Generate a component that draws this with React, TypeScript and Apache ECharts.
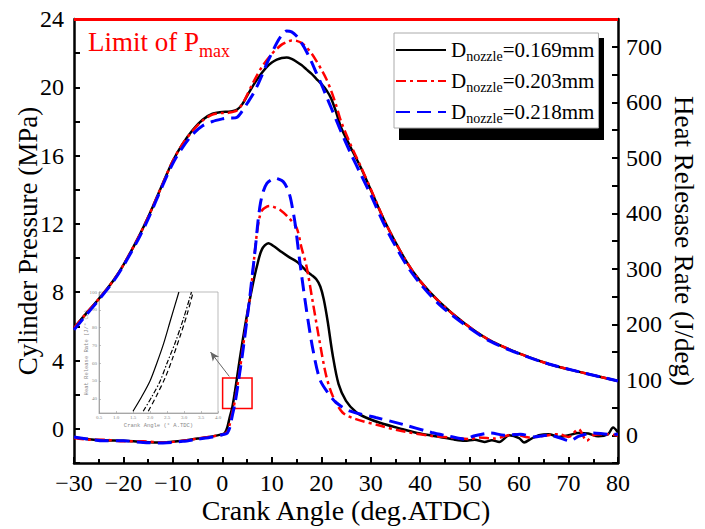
import React, { useEffect, useRef } from 'react';
import * as echarts from 'echarts';

const FONT = "'Times New Roman', 'Liberation Serif', serif";
const MONO = "'Liberation Mono', 'DejaVu Sans Mono', monospace";

// ---- Cylinder pressure (MPa), left axis ----
const pAngles = [-30, -28, -25, -22, -20, -17, -15, -12, -10, -8, -6, -4, -2, 0, 1, 2, 3, 4, 5, 6, 7, 8, 9, 10, 11, 12, 13, 14, 15, 16, 17, 18, 19, 20, 21, 22, 23, 24, 26, 28, 30, 33, 37, 40, 44, 49, 54, 60, 66, 72, 80];
const pBlack = [5.9, 6.6, 7.6, 8.7, 9.6, 11.2, 12.4, 14.4, 15.7, 16.7, 17.5, 18.1, 18.45, 18.55, 18.57, 18.6, 18.7, 19.0, 19.5, 20.0, 20.45, 20.85, 21.2, 21.45, 21.62, 21.72, 21.74, 21.66, 21.5, 21.3, 21.05, 20.8, 20.5, 20.2, 19.85, 19.35, 18.55, 17.65, 16.45, 15.3, 14.0, 12.05, 9.9, 8.65, 7.4, 6.17, 5.2, 4.42, 3.8, 3.35, 2.8];
const pRed = [5.9, 6.6, 7.6, 8.7, 9.6, 11.2, 12.4, 14.4, 15.7, 16.7, 17.45, 18.05, 18.4, 18.5, 18.5, 18.55, 18.65, 19.0, 19.55, 20.15, 20.7, 21.2, 21.6, 21.95, 22.25, 22.5, 22.65, 22.74, 22.72, 22.6, 22.35, 22.0, 21.55, 21.05, 20.5, 19.8, 18.95, 18.0, 16.6, 15.35, 14.05, 12.05, 9.9, 8.65, 7.4, 6.17, 5.2, 4.42, 3.8, 3.35, 2.8];
const pBlue = [5.8, 6.5, 7.55, 8.65, 9.55, 11.1, 12.3, 14.3, 15.55, 16.5, 17.25, 17.75, 18.0, 18.15, 18.2, 18.2, 18.25, 18.6, 19.05, 19.5, 20.05, 20.7, 21.4, 22.0, 22.6, 23.05, 23.3, 23.25, 23.0, 22.6, 22.1, 21.5, 20.85, 20.2, 19.5, 18.8, 18.1, 17.4, 16.1, 14.9, 13.7, 11.8, 9.7, 8.5, 7.25, 6.1, 5.15, 4.4, 3.8, 3.35, 2.8];

// ---- Heat release rate (J/deg), right axis ----
const hAnglesBlack = [-30, -27, -24, -20, -16, -12, -8, -5, -2, 0, 0.5, 1, 1.5, 2, 2.5, 3, 4, 5, 6, 7, 8, 9.3, 10.5, 12, 13.5, 15, 16, 17, 18, 19, 19.8, 20.5, 21.3, 22.3, 23.5, 25, 27, 29, 32, 36, 40, 44, 47, 49, 51, 53, 54.5, 56, 58, 60, 61, 62.5, 64, 66, 68, 70, 72, 74, 76, 78, 79, 80];
const hBlack = [-4, -7, -9, -10, -12, -13, -10, -6, -2, 2, 4, 14, 33, 50, 76, 106, 165, 218, 265, 305, 335, 346, 340, 330, 321, 313, 305, 296, 289, 281, 268, 245, 205, 145, 92, 62, 42, 32, 22, 12, 3, -3, -8, -10, -8, -12, -9, -12, 0, -5, -13, -6, 0, 2, -3, 0, 4, 3, -2, 2, 14, 5];
const hAnglesRed = [-30, -27, -24, -20, -16, -12, -8, -5, -2, 0, 0.5, 1, 1.5, 2, 2.5, 3, 3.5, 4, 4.5, 5, 5.5, 6, 6.5, 7, 7.5, 8, 9, 9.7, 10.5, 11.7, 13.3, 15, 16, 17, 18.3, 19.7, 21, 22.3, 24.3, 27, 32, 36, 42, 46, 50, 52, 55, 57, 59, 62, 65, 68, 70, 72, 73.7, 75, 77.7, 80];
const hRed = [-5, -8, -8, -11, -11, -13, -10, -6, -2, 1, 3, 6, 20, 40, 60, 87, 116, 148, 180, 212, 243, 280, 325, 365, 392, 405, 412, 413, 411, 406, 393, 374, 338, 305, 239, 167, 107, 71, 41, 29, 17, 8, -1, -4, -7, -4, -6, -2, 2, -4, -1, 2, -3, 11, -10, 0, 2, -1];
const hAnglesBlue = [-30, -27, -24, -20, -16, -12, -8, -5, -2, 0, 0.5, 1, 1.5, 2, 2.5, 3, 3.5, 4, 4.5, 5, 5.5, 6, 6.7, 7.2, 7.7, 8.3, 9, 10, 10.7, 11.5, 12.3, 13, 13.7, 14.2, 14.7, 15.7, 17, 18.3, 19.7, 21.3, 23, 25.7, 31, 36.3, 42.3, 46, 49, 51, 54.3, 57, 60.3, 63, 66, 68, 70.3, 72, 75, 78, 80];
const hBlue = [-3, -7, -10, -10, -13, -14, -11, -7, -3, 1, 2, 4, 14, 35, 55, 82, 112, 142, 175, 210, 245, 285, 340, 385, 418, 440, 454, 461, 463, 461, 457, 447, 430, 408, 382, 310, 226, 155, 101, 77, 59, 44, 32, 20, 5, -2, -7, -1, 4, 0, 2, -3, 0, -4, -10, -2, 4, 2, 2];

// ---- Inset (zoom of the start of combustion) ----
const insetAnglesBlack = [1.5, 1.75, 2.0, 2.2, 2.4, 2.6, 2.85];
const insetBlack = [33, 41, 50, 60, 71, 84, 100];
const insetAnglesRed = [1.8, 2.05, 2.3, 2.5, 2.75, 3.0, 3.22];
const insetRed = [33, 41, 50, 60, 72, 86, 100];
const insetAnglesBlue = [1.95, 2.2, 2.45, 2.65, 2.9, 3.1, 3.27];
const insetBlue = [33, 42, 52, 62, 76, 88, 100];
const insetYTicks = [40, 50, 60, 70, 80, 90, 100];

const legendNames = ['0.169mm', '0.203mm', '0.218mm'];
const pressureLimit = 24;
const zoomBox = { x0: 0.05, x1: 6.0, y0: 48, y1: 103 };
const arrowFrom = [1.4, 106];
const arrowTo = [-2.4, 150];

const pairs = (xs: number[], ys: number[]) => xs.map((x, i) => [x, ys[i]]);
const minus = (v: number) => String(v).replace('-', '\u2212');

const RED_DASH = [10, 4, 3, 4];
const BLUE_DASH = [14, 7];

function buildOption(): any {
  const axisLineStyle = { color: '#000', width: 2.5 };
  const tickStyle = { color: '#000', width: 2 };
  const mainLine = (name: string, data: number[][], yAxisIndex: number, color: string, type: any, width: number, extra: any = {}) => ({
    name,
    type: 'line',
    xAxisIndex: 0,
    yAxisIndex,
    data,
    symbol: 'none',
    smooth: 0.3,
    lineStyle: { color, width, type },
    itemStyle: { color },
    emphasis: { disabled: true },
    ...extra,
  });
  const insetLine = (data: number[][], type: any) => ({
    type: 'line',
    xAxisIndex: 1,
    yAxisIndex: 2,
    data,
    symbol: 'none',
    smooth: 0.3,
    lineStyle: { color: '#000', width: 1.2, type },
    itemStyle: { color: '#000' },
    emphasis: { disabled: true },
  });

  return {
    animation: false,
    backgroundColor: '#fff',
    grid: [
      { left: 74, right: 78, top: 19, bottom: 66 },
      { left: 99, top: 292, width: 119, height: 121, show: true, borderColor: '#aaa', borderWidth: 0.8 },
    ],
    legend: {
      data: legendNames,
      orient: 'vertical',
      left: 394,
      top: 33,
      z: 10,
      padding: [4, 4, 3, 1],
      itemGap: 5,
      itemWidth: 50,
      itemHeight: 14,
      selectedMode: false,
      backgroundColor: '#fff',
      borderColor: '#aaa',
      borderWidth: 1,
      itemStyle: { opacity: 0, borderWidth: 0 },
      formatter: (n: string) => `{d|D}{s|nozzle}{d|=${n}}`,
      textStyle: {
        fontFamily: FONT,
        color: '#000',
        rich: {
          d: { fontFamily: FONT, fontSize: 21, lineHeight: 26, color: '#000' },
          s: { fontFamily: FONT, fontSize: 14, lineHeight: 16, padding: [12, 0, 0, 0], color: '#000' },
        },
      },
    },
    xAxis: [
      {
        gridIndex: 0,
        type: 'value',
        min: -30,
        max: 80,
        interval: 10,
        axisLine: { onZero: false, lineStyle: axisLineStyle },
        axisTick: { inside: true, length: 6, lineStyle: tickStyle },
        minorTick: { show: true, splitNumber: 2, length: 4, lineStyle: tickStyle },
        splitLine: { show: false },
        axisLabel: { fontFamily: FONT, fontSize: 24, color: '#000', margin: 8, formatter: minus },
        name: 'Crank Angle (deg.ATDC)',
        nameLocation: 'middle',
        nameGap: 33,
        nameMoveOverlap: false,
        nameTextStyle: { fontFamily: FONT, fontSize: 28, color: '#000' },
      },
      {
        gridIndex: 1,
        type: 'value',
        min: 0.5,
        max: 4,
        interval: 0.5,
        axisLine: { onZero: false, lineStyle: { color: '#999', width: 0.8 } },
        axisTick: { inside: true, length: 2, lineStyle: { color: '#999', width: 0.6 } },
        splitLine: { show: false },
        axisLabel: { fontFamily: FONT, fontSize: 5, color: '#888', margin: 2, formatter: (v: number) => v.toFixed(1) },
        name: 'Crank Angle (\u00b0 A.TDC)',
        nameLocation: 'middle',
        nameGap: 9,
        nameMoveOverlap: false,
        nameTextStyle: { fontFamily: MONO, fontSize: 5.5, color: '#888' },
      },
    ],
    yAxis: [
      {
        gridIndex: 0,
        type: 'value',
        position: 'left',
        min: -2,
        max: 24,
        interval: 2,
        axisLine: { show: true, onZero: false, lineStyle: axisLineStyle },
        axisTick: { show: true, inside: true, length: 6, lineStyle: tickStyle },
        splitLine: { show: false },
        axisLabel: {
          fontFamily: FONT, fontSize: 24, color: '#000', margin: 10,
          formatter: (v: number) => (v % 4 === 0 ? minus(v) : ''),
        },
        name: 'Cylinder Pressure (MPa)',
        nameLocation: 'middle',
        nameRotate: 90,
        nameGap: 33,
        nameMoveOverlap: false,
        nameTextStyle: { fontFamily: FONT, fontSize: 27, color: '#000' },
      },
      {
        gridIndex: 0,
        type: 'value',
        position: 'right',
        min: -50,
        max: 750,
        interval: 50,
        axisLine: { show: true, onZero: false, lineStyle: axisLineStyle },
        axisTick: { show: true, inside: true, length: 6, lineStyle: tickStyle },
        splitLine: { show: false },
        axisLabel: {
          fontFamily: FONT, fontSize: 24, color: '#000', margin: 8,
          formatter: (v: number) => (v % 100 === 0 && v >= 0 && v <= 700 ? String(v) : ''),
        },
        name: 'Heat Relesase Rate (J/deg)',
        nameLocation: 'middle',
        nameRotate: -90,
        nameGap: 52,
        nameMoveOverlap: false,
        nameTextStyle: { fontFamily: FONT, fontSize: 27, color: '#000' },
      },
      {
        gridIndex: 1,
        type: 'value',
        min: 32,
        max: 100,
        axisLine: { show: true, onZero: false, lineStyle: { color: '#999', width: 0.8 } },
        axisTick: { show: true, inside: true, length: 2, customValues: insetYTicks, lineStyle: { color: '#999', width: 0.6 } },
        splitLine: { show: false },
        axisLabel: { fontFamily: FONT, fontSize: 5, color: '#888', margin: 2, customValues: insetYTicks },
        name: 'Heat Release Rate (J/\u00b0 CA)',
        nameLocation: 'middle',
        nameRotate: 90,
        nameGap: 10,
        nameMoveOverlap: false,
        nameTextStyle: { fontFamily: MONO, fontSize: 5.5, color: '#888' },
      },
    ],
    graphic: [
      {
        type: 'rect',
        silent: true,
        z: 1,
        shape: { x: 399, y: 38, width: 205, height: 102 },
        style: { fill: '#000' },
      },
      {
        type: 'text',
        left: 88,
        top: 24,
        silent: true,
        style: {
          text: '{a|Limit of P}{b|max}',
          rich: {
            a: { fontFamily: FONT, fontSize: 27, lineHeight: 32, fill: '#ff0000', color: '#ff0000' },
            b: { fontFamily: FONT, fontSize: 18, lineHeight: 20, padding: [18, 0, 0, 0], fill: '#ff0000', color: '#ff0000' },
          },
        },
      },
    ],
    series: [
      mainLine(legendNames[0], pairs(pAngles, pBlack), 0, '#000', 'solid', 2.5, {
        markLine: {
          silent: true,
          symbol: ['none', 'none'],
          label: { show: false },
          lineStyle: { color: '#ff0000', width: 3, type: 'solid' },
          data: [{ yAxis: pressureLimit }],
        },
      }),
      mainLine(legendNames[1], pairs(pAngles, pRed), 0, '#ff0000', RED_DASH, 2.5),
      mainLine(legendNames[2], pairs(pAngles, pBlue), 0, '#0000ff', BLUE_DASH, 3),
      mainLine(legendNames[0], pairs(hAnglesBlack, hBlack), 1, '#000', 'solid', 2.5, {
        markArea: {
          silent: true,
          itemStyle: { color: 'rgba(0,0,0,0)', borderColor: '#ff0000', borderWidth: 1.5 },
          label: { show: false },
          data: [[{ coord: [zoomBox.x0, zoomBox.y0] }, { coord: [zoomBox.x1, zoomBox.y1] }]],
        },
        markLine: {
          silent: true,
          symbol: ['none', 'arrow'],
          symbolSize: [6, 9],
          label: { show: false },
          lineStyle: { color: '#666', width: 1, type: 'solid' },
          data: [[{ coord: arrowFrom }, { coord: arrowTo }]],
        },
      }),
      mainLine(legendNames[1], pairs(hAnglesRed, hRed), 1, '#ff0000', RED_DASH, 2.5),
      mainLine(legendNames[2], pairs(hAnglesBlue, hBlue), 1, '#0000ff', BLUE_DASH, 3),
      insetLine(pairs(insetAnglesBlack, insetBlack), 'solid'),
      insetLine(pairs(insetAnglesRed, insetRed), [5, 2, 1.5, 2]),
      insetLine(pairs(insetAnglesBlue, insetBlue), [5, 3]),
    ],
  };
}

export default function App() {
  const ref = useRef<HTMLDivElement>(null);
  useEffect(() => {
    if (!ref.current) return;
    const chart = echarts.init(ref.current, null, { renderer: 'svg' });
    chart.setOption(buildOption());
    return () => chart.dispose();
  }, []);
  return <div ref={ref} style={{ position: 'absolute', left: 0, top: 0, width: 705, height: 529 }} />;
}
